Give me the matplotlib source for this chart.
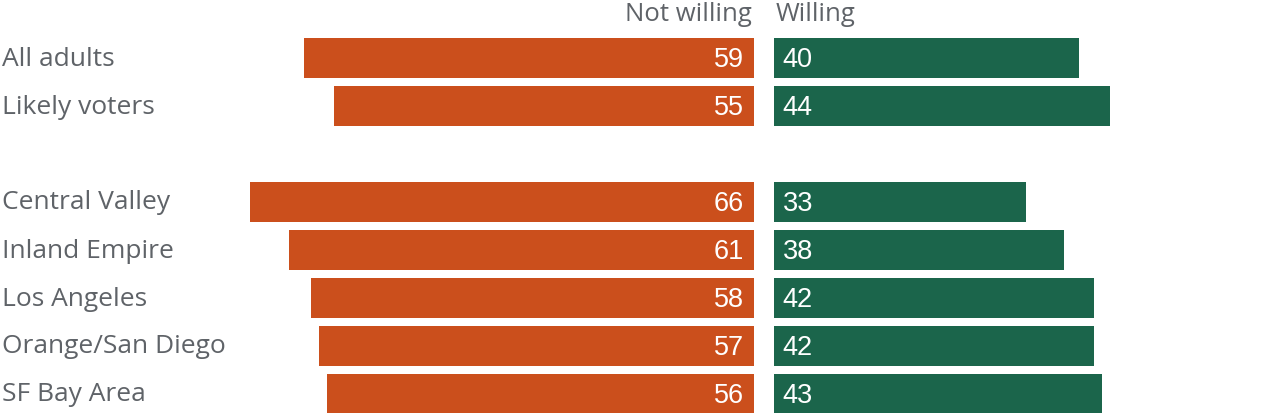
import matplotlib.pyplot as plt

groups = ['All adults', 'Likely voters', 'Central Valley', 'Inland Empire',
          'Los Angeles', 'Orange/San Diego', 'SF Bay Area']
not_willing = [59, 55, 66, 61, 58, 57, 56]
willing = [40, 44, 33, 38, 42, 42, 43]
rows = [0, 1, 3, 4, 5, 6, 7]

orange = '#cb4f1c'
green = '#1b654b'
grey = '#5f6368'
label_font = 'Open Sans'
num_font = 'Liberation Sans'

W, H = 1280, 414
px = 7.63  # pixels per percentage point
fig = plt.figure(figsize=(W / 100, H / 100), dpi=100)

y_top = -59 / 48
y_bot = 7 + 19 / 48

# left axes: not willing, grows leftwards, ends at x=754
axl = fig.add_axes([0, 0, 754 / W, 1])
axl.barh(rows, not_willing, height=40 / 48, color=orange)
axl.set_xlim(754 / px, 0)
axl.set_ylim(y_bot, y_top)
axl.axis('off')
for r, v in zip(rows, not_willing):
    axl.text(1.35, r + 0.02, str(v), ha='right', va='center', color='white',
             fontsize=19.5, family=num_font)

# right axes: willing, starts at x=774
axr = fig.add_axes([774 / W, 0, (W - 774) / W, 1])
axr.barh(rows, willing, height=40 / 48, color=green)
axr.set_xlim(0, (W - 774) / px)
axr.set_ylim(y_bot, y_top)
axr.axis('off')
for r, v in zip(rows, willing):
    axr.text(1.15, r + 0.02, str(v), ha='left', va='center', color='white',
             fontsize=19.5, family=num_font)

# category labels and headers
for r, g in zip(rows, groups):
    axl.text(754 / px - 2 / px, r, g, ha='left', va='center', color=grey,
             fontsize=19, family=label_font)
axl.text(0.25, -0.92, 'Not willing', ha='right', va='center', color=grey,
         fontsize=18.5, family=label_font)
axr.text(0.2, -0.92, 'Willing', ha='left', va='center', color=grey,
         fontsize=18.5, family=label_font)

fig.savefig('out.png', dpi=100)
